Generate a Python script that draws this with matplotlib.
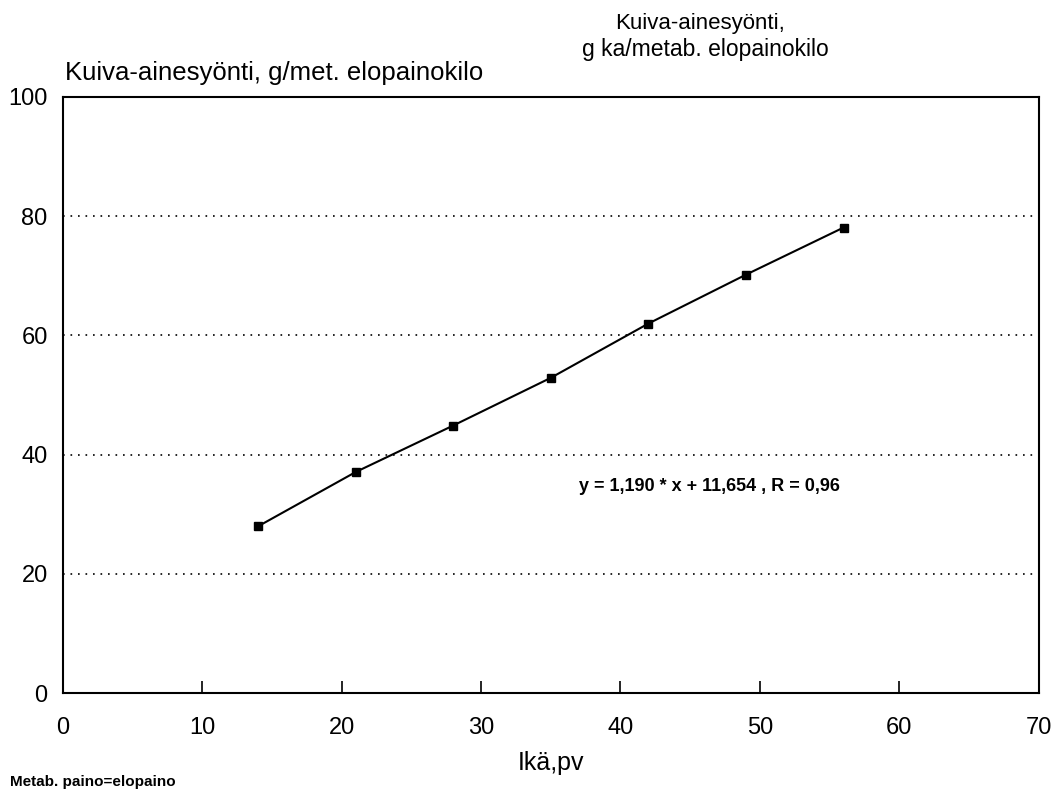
import matplotlib
matplotlib.use("Agg")
import matplotlib.pyplot as plt

plt.rcParams['font.family'] = ['Liberation Sans', 'DejaVu Sans']

# Age (days) and dry-matter intake per metabolic live-weight kilo
age_days = [14, 21, 28, 35, 42, 49, 56]
intake = [28.0, 37.1, 44.9, 52.9, 62.0, 70.2, 78.1]

x_ticks = [0, 10, 20, 30, 40, 50, 60, 70]
y_ticks = [0, 20, 40, 60, 80, 100]
grid_levels = [20, 40, 60, 80]

fig = plt.figure(figsize=(10.62, 7.95), dpi=100)
ax = fig.add_axes([0.0593, 0.128, 0.9187, 0.750])

ax.plot(age_days, intake, color='black', linewidth=1.5,
        marker='s', markersize=6, markerfacecolor='black',
        markeredgecolor='black')

for lvl in grid_levels:
    ax.axhline(lvl, color='black', linestyle=(0, (1, 3.5)), linewidth=1.2)

ax.set_xlim(0, 70)
ax.set_ylim(0, 100)
ax.set_xticks(x_ticks)
ax.set_yticks(y_ticks)
ax.set_xticklabels([str(v) for v in x_ticks], fontsize=17)
ax.set_yticklabels([str(v) for v in y_ticks], fontsize=17)
ax.tick_params(axis='x', direction='in', length=9, width=1.2, pad=17)
ax.tick_params(axis='y', length=0, pad=11)
for s in ax.spines.values():
    s.set_linewidth(1.5)

ax.set_xlabel('Ikä,pv', fontsize=18, labelpad=9)

fig.text(0.0615, 0.899, 'Kuiva-ainesyönti, g/met. elopainokilo',
         fontsize=18.5, ha='left', va='baseline')
fig.text(0.659, 0.9635, 'Kuiva-ainesyönti,',
         fontsize=16, ha='center', va='baseline')
fig.text(0.664, 0.929, 'g ka/metab. elopainokilo',
         fontsize=16.5, ha='center', va='baseline')
ax.text(0.529, 0.347, 'y = 1,190 * x + 11,654 , R = 0,96',
        transform=ax.transAxes, fontsize=13, fontweight='bold',
        ha='left', va='center')
fig.text(0.009, 0.016, 'Metab. paino=elopaino', fontsize=11,
         fontweight='bold', ha='left', va='center')

fig.savefig('out.png', dpi=100)
